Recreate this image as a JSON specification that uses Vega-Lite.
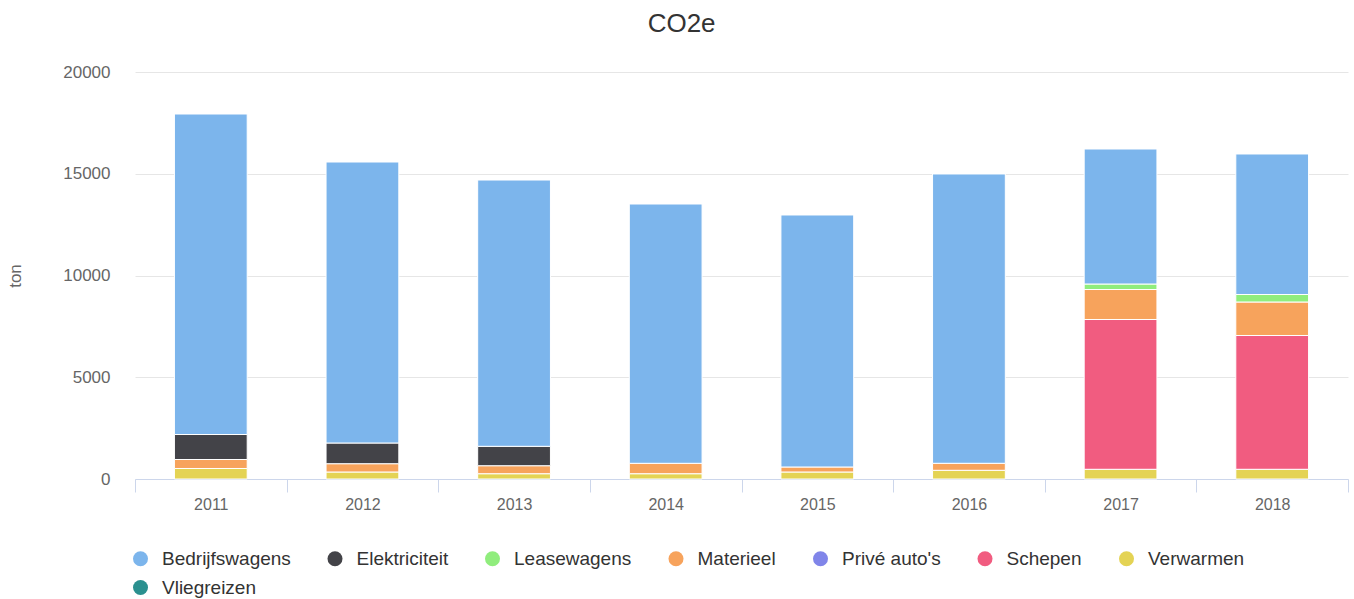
{
  "$schema": "https://vega.github.io/schema/vega-lite/v6.json",
  "width": 1213,
  "height": 407,
  "autosize": {"type": "none"},
  "padding": {"left": 135, "top": 72, "right": 6, "bottom": 120},
  "background": "white",
  "title": {
    "text": "CO2e",
    "font": "Liberation Sans",
    "fontSize": 26,
    "fontWeight": "normal",
    "color": "#333333",
    "anchor": "middle",
    "frame": "bounds",
    "offset": 26,
    "dx": 4
  },
  "data": {
    "values": [
      {"jaar": "2011", "bron": "Verwarmen", "ton": 516},
      {"jaar": "2011", "bron": "Materieel", "ton": 442},
      {"jaar": "2011", "bron": "Elektriciteit", "ton": 1228},
      {"jaar": "2011", "bron": "Bedrijfswagens", "ton": 15750},
      {"jaar": "2012", "bron": "Verwarmen", "ton": 344},
      {"jaar": "2012", "bron": "Materieel", "ton": 408},
      {"jaar": "2012", "bron": "Elektriciteit", "ton": 1017},
      {"jaar": "2012", "bron": "Bedrijfswagens", "ton": 13808},
      {"jaar": "2013", "bron": "Verwarmen", "ton": 260},
      {"jaar": "2013", "bron": "Materieel", "ton": 393},
      {"jaar": "2013", "bron": "Elektriciteit", "ton": 953},
      {"jaar": "2013", "bron": "Bedrijfswagens", "ton": 13086},
      {"jaar": "2014", "bron": "Verwarmen", "ton": 260},
      {"jaar": "2014", "bron": "Materieel", "ton": 511},
      {"jaar": "2014", "bron": "Bedrijfswagens", "ton": 12742},
      {"jaar": "2015", "bron": "Verwarmen", "ton": 344},
      {"jaar": "2015", "bron": "Materieel", "ton": 246},
      {"jaar": "2015", "bron": "Bedrijfswagens", "ton": 12383},
      {"jaar": "2016", "bron": "Verwarmen", "ton": 428},
      {"jaar": "2016", "bron": "Materieel", "ton": 344},
      {"jaar": "2016", "bron": "Bedrijfswagens", "ton": 14217},
      {"jaar": "2017", "bron": "Verwarmen", "ton": 477},
      {"jaar": "2017", "bron": "Schepen", "ton": 7361},
      {"jaar": "2017", "bron": "Materieel", "ton": 1474},
      {"jaar": "2017", "bron": "Leasewagens", "ton": 270},
      {"jaar": "2017", "bron": "Bedrijfswagens", "ton": 6634},
      {"jaar": "2018", "bron": "Verwarmen", "ton": 477},
      {"jaar": "2018", "bron": "Schepen", "ton": 6575},
      {"jaar": "2018", "bron": "Materieel", "ton": 1646},
      {"jaar": "2018", "bron": "Leasewagens", "ton": 369},
      {"jaar": "2018", "bron": "Bedrijfswagens", "ton": 6904}
    ]
  },
  "mark": {"type": "bar", "width": {"band": 0.48}, "stroke": "white", "strokeWidth": 1},
  "encoding": {
    "x": {
      "field": "jaar",
      "type": "ordinal",
      "scale": {"paddingInner": 0, "paddingOuter": 0},
      "axis": {
        "title": null,
        "labelAngle": 0,
        "labelFont": "Liberation Sans",
        "labelFontSize": 16,
        "labelColor": "#666666",
        "domainColor": "#ccd6eb",
        "tickColor": "#ccd6eb",
        "tickSize": 13,
        "tickBand": "extent",
        "labelPadding": 4,
        "grid": false
      }
    },
    "y": {
      "field": "ton",
      "type": "quantitative",
      "aggregate": "sum",
      "stack": "zero",
      "scale": {"domain": [0, 20000], "nice": false},
      "axis": {
        "title": "ton",
        "titleFont": "Liberation Sans",
        "titleFontSize": 17,
        "titleFontWeight": "normal",
        "titleColor": "#666666",
        "titlePadding": 38,
        "values": [0, 5000, 10000, 15000, 20000],
        "format": "d",
        "labelFont": "Liberation Sans",
        "labelFontSize": 17,
        "labelColor": "#666666",
        "labelPadding": 25,
        "ticks": false,
        "domain": false,
        "grid": true,
        "gridColor": "#e6e6e6"
      }
    },
    "color": {
      "field": "bron",
      "type": "nominal",
      "scale": {
        "domain": ["Bedrijfswagens", "Elektriciteit", "Leasewagens", "Materieel", "Privé auto's", "Schepen", "Verwarmen", "Vliegreizen"],
        "range": ["#7cb5ec", "#434348", "#90ed7d", "#f7a35c", "#8085e9", "#f15c80", "#e4d354", "#2b908f"]
      },
      "legend": {
        "title": null,
        "orient": "none",
        "legendX": -4,
        "legendY": 477,
        "direction": "horizontal",
        "columns": 7,
        "symbolType": "circle",
        "symbolSize": 225,
        "symbolStrokeWidth": 0,
        "symbolOpacity": 1,
        "labelFont": "Liberation Sans",
        "labelFontSize": 19,
        "labelColor": "#333333",
        "labelOffset": 12,
        "columnPadding": 34.5,
        "rowPadding": 9,
        "labelLimit": 300
      }
    },
    "order": {"field": "bron", "sort": "descending"}
  },
  "config": {
    "view": {"stroke": null}
  }
}
